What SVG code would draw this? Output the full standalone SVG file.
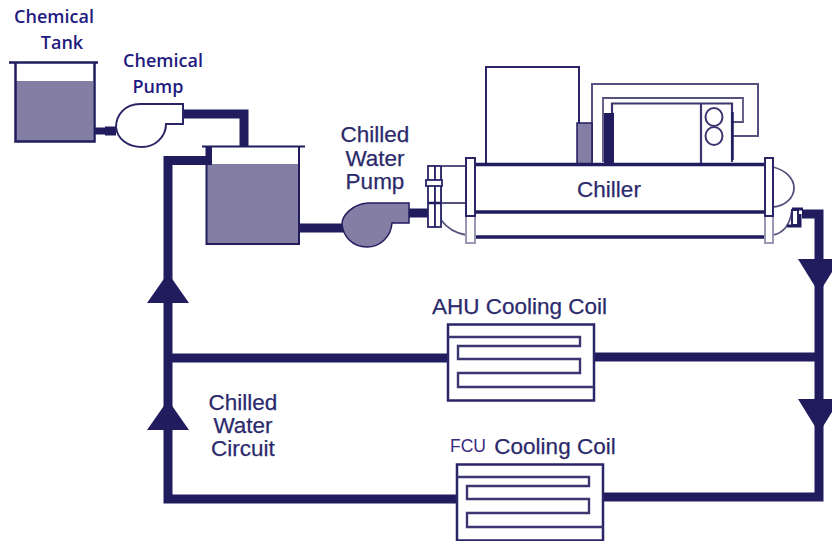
<svg xmlns="http://www.w3.org/2000/svg" width="832" height="541" viewBox="0 0 832 541">
<style>
.t{font-family:"Liberation Sans",Arial,sans-serif;font-size:22.500px;fill:#2b2a6b;stroke:#2b2a6b;stroke-width:.25;text-anchor:middle}
.c{font-family:"Open Sans","Noto Sans",sans-serif;font-size:18px;font-weight:600;fill:#1f1a80;text-anchor:middle}
.o{fill:none;stroke:#211c5e;stroke-width:2.500}
.w{fill:#fff;stroke:#2a2566;stroke-width:2.500}
.g{fill:#fff;stroke:#9a97b5;stroke-width:2}
.d{fill:#fff;stroke:#2a2566;stroke-width:2}
.thin{fill:none;stroke:#56527f;stroke-width:1.800}
.s{fill:none;stroke:#3b3670;stroke-width:2.400}
.p{fill:#847ea5}
.pipe{fill:none;stroke:#211c5e;stroke-width:9}
.a{fill:#211c5e}
</style>
<rect width="832" height="541" fill="#fff"/>
<g id="connectors">
<path class="pipe" style="stroke-width:7" d="M95 131H106"/>
<path class="pipe" d="M105 131H116"/>
<path class="pipe" d="M183 114H244V146"/>
<path class="pipe" d="M207 160.500H168V499H458"/>
<path class="pipe" d="M168 358H449"/>
<path class="pipe" d="M298 228H345"/>
<path class="pipe" d="M407 213H428"/>
<path class="pipe" d="M802 214H819V497H603"/>
<path class="pipe" d="M594 357H819"/>
<polygon class="a" points="168,273 189,303 147,303"/>
<polygon class="a" points="168,400 189,430 147,430"/>
<polygon class="a" points="798,259 840,259 819,293"/>
<polygon class="a" points="798,399 840,399 819,433"/>
</g>
<g id="chemical-tank">
<rect class="p" x="16" y="81" width="77" height="60"/>
<path class="o" d="M9 62.500H98M15.500 62V141.500H94.500V62"/>
<text class="c"><tspan x="54" y="23">Chemical</tspan><tspan x="62" y="49">Tank</tspan></text>
</g>
<g id="chemical-pump">
<path class="d" d="M183 104H140C124 104 116 116 116 127C117 139 128 147 142 147C155 147 166 137 166 124H183Z"/>
<text class="c"><tspan x="163" y="67">Chemical</tspan><tspan x="158" y="93">Pump</tspan></text>
</g>
<g id="main-tank">
<rect class="p" x="206" y="164" width="93" height="80"/>
<rect class="a" x="206" y="146" width="6" height="19"/>
<path class="o" style="stroke-width:2" d="M202 146.500H305M206.500 146V244H299V146"/>
</g>
<g id="chilled-water-pump">
<path fill="#847ea5" stroke="#211c5e" stroke-width="1.500" d="M409 203H368C352 204 342 216 342 224C343 236 352 247 367 247C380 247 391 237 392 223H409Z"/>
<text class="t"><tspan x="375" y="142">Chilled</tspan><tspan x="375" y="165.500">Water</tspan><tspan x="375" y="189">Pump</tspan></text>
</g>
<g id="chiller">
<rect class="d" x="486" y="67" width="93" height="98"/>
<path class="thin" style="stroke-width:2" d="M592 162V84H758V136H733"/>
<path class="thin" d="M603 162V98H743V122H733"/>
<path class="s" style="stroke-width:2.200" d="M612 162V103.500H732V162M701 104V164"/>
<rect x="577" y="123" width="15" height="41" class="p" stroke="#211c5e" stroke-width="1.500"/>
<rect x="604" y="113" width="10" height="51" class="a"/>
<ellipse class="s" cx="714" cy="117" rx="8.500" ry="9" style="stroke-width:2"/>
<ellipse class="s" cx="714" cy="136" rx="8.500" ry="9" style="stroke-width:2"/>
<path class="o" d="M732.500 112V160"/>
<path class="thin" d="M442 166H466M442 203H466M441 166V220C447 228 455 233 466 235M773 167C785 170 794 178 794 188C794 198 785 206 773 207M773 235C783 233 790 226 792 210"/>
<path class="o" style="stroke-width:3.500" d="M473 164.500H765M473 212H765M473 237H765"/>
<path class="o" style="stroke-width:3" d="M474 164V212"/>
<rect class="g" x="466" y="158" width="9" height="85"/>
<rect class="d" x="466" y="158" width="9" height="58"/>
<rect class="g" x="765" y="158" width="8" height="85"/>
<rect class="d" x="765" y="158" width="8" height="58"/>
<rect class="d" x="428" y="166" width="7" height="61" style="stroke-width:1.800"/>
<rect class="d" x="435" y="166" width="6" height="61" style="stroke-width:1.800"/>
<rect class="d" x="426" y="180" width="16" height="6" style="stroke-width:1.800"/>
<path class="o" d="M428 203H441"/>
<path class="d" d="M792 210H798V225H792Z"/>
<path class="o" style="stroke-width:3" d="M792 209H803M787 226H800V214"/>
<text class="t" x="609" y="197">Chiller</text>
</g>
<g id="ahu-coil">
<rect class="w" x="448" y="324.500" width="146" height="76"/>
<path class="s" d="M448 337H580V346H458V359H580V373H458V387H594"/>
<text class="t" x="519.500" y="314">AHU Cooling Coil</text>
</g>
<g id="fcu-coil">
<rect class="w" x="457" y="464.500" width="146" height="76"/>
<path class="s" d="M457 477H589V486H467V499H589V513H467V527H603"/>
<text class="t" x="555" y="454">Cooling Coil</text>
<text class="t" x="468" y="452" style="font-size:17.500px;fill:#3a2a80;stroke:none">FCU</text>
</g>
<g id="chilled-water-circuit">
<text class="t"><tspan x="243" y="409.500">Chilled</tspan><tspan x="243" y="432.500">Water</tspan><tspan x="243" y="456">Circuit</tspan></text>
</g>
</svg>
